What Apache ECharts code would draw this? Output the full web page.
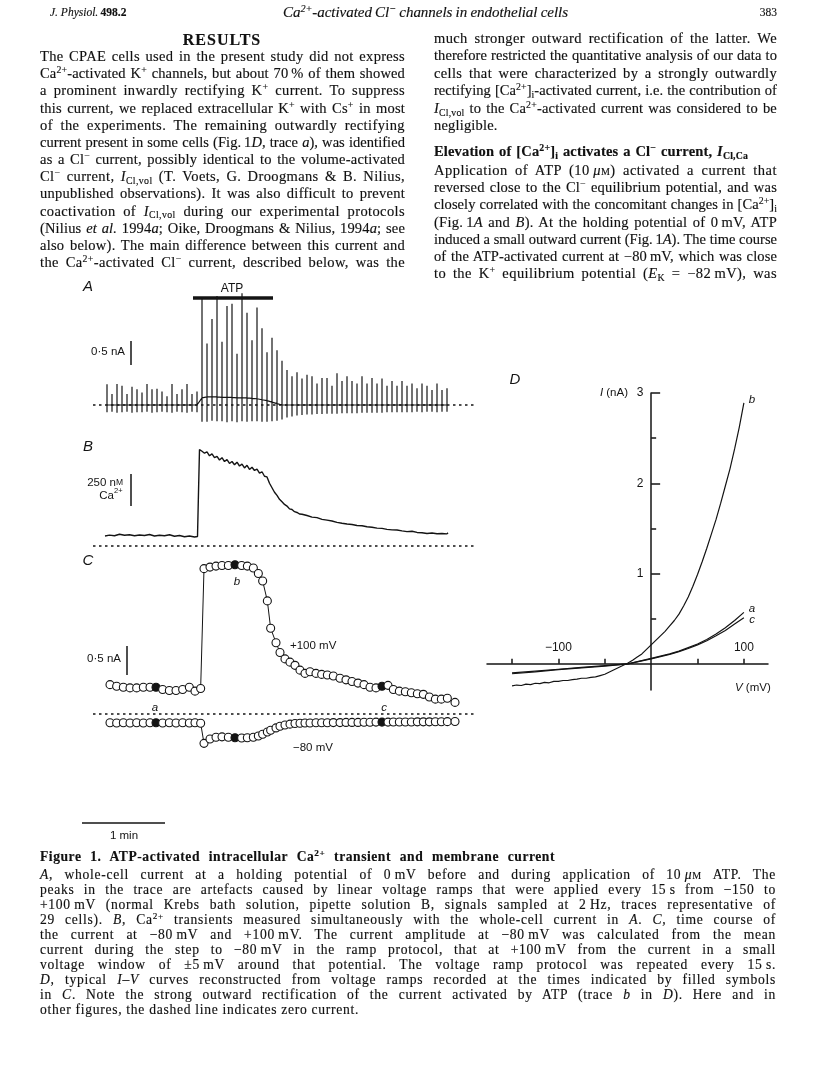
<!DOCTYPE html>
<html><head><meta charset="utf-8">
<script src="https://cdn.jsdelivr.net/npm/echarts@6/dist/echarts.min.js"></script>
<style>
html,body{margin:0;padding:0;background:#fff;}
#page{position:relative;width:816px;height:1088px;overflow:hidden;background:#fff;}
#chart{position:absolute;left:0;top:0;width:816px;height:1088px;z-index:1;}
.t{position:absolute;white-space:nowrap;font-family:"Liberation Serif","Times New Roman",serif;color:#111;z-index:2;-webkit-text-stroke:0.15px #111;}
.body{font-size:14.5px;line-height:17px;height:17px;}
.cap{font-size:13.6px;line-height:15px;height:15px;}
.hdr{font-size:11.5px;line-height:15px;height:15px;}
.ttl{font-size:15px;line-height:17px;height:17px;}
.res{font-size:16px;line-height:20px;height:20px;font-weight:bold;letter-spacing:1px;}
sup,sub{font-size:0.68em;line-height:0;position:relative;vertical-align:baseline;}
sup{top:-0.5em;} sub{top:0.3em;}
.sc{font-variant:small-caps;}
</style></head>
<body>
<div id="page"><div id="chart"></div></div>
<script>
// ---------------- DATA ----------------
// Panel A: one voltage-ramp artefact per ramp (nA); x = ramp number
const spikeUp = [0.43,0.23,0.44,0.40,0.23,0.38,0.33,0.26,0.44,0.33,0.34,0.28,0.18,0.44,0.23,0.33,0.44,0.23,0.28,
  2.10,1.11,1.62,2.10,1.16,1.90,1.95,0.92,2.18,1.77,1.21,1.90,1.49,1.01,1.34,1.11,
  0.92,0.73,0.60,0.68,0.55,0.63,0.60,0.45,0.56,0.56,0.40,0.66,0.50,0.60,0.50,0.45,0.60,0.45,0.56,0.45,0.55,0.40,0.50,0.40,0.50,0.40,0.45,0.35,0.45,0.40,0.31,0.45,0.31,0.35];
const spikeDown = [0.15,0.14,0.16,0.15,0.14,0.16,0.15,0.15,0.14,0.16,0.15,0.14,0.15,0.16,0.14,0.15,0.16,0.14,0.15,
  0.50,0.52,0.50,0.51,0.50,0.52,0.50,0.51,0.49,0.50,0.48,0.47,0.46,0.44,0.40,0.36,
  0.30,0.26,0.24,0.22,0.21,0.20,0.20,0.19,0.19,0.18,0.18,0.18,0.17,0.17,0.17,0.17,0.16,0.16,0.16,0.16,0.16,0.15,0.15,0.15,0.15,0.15,0.15,0.14,0.15,0.14,0.14,0.15,0.14,0.14];
const holdBase = [0,0,0,0,0,0,0,0,0,0,0,0,0,0,0,0,0,0,0,
  0.15,0.17,0.17,0.17,0.16,0.16,0.16,0.15,0.15,0.15,0.14,0.13,0.11,0.09,0.06,0.03,
  0,0,0,0,0,0,0,0,0,0,0,0,0,0,0,0,0,0,0,0,0,0,0,0,0,0,0,0,0,0,0,0,0,0];
const atpWindow = [17.2, 33.2];
// Panel B: [Ca2+]i (nM) vs ramp number
const bT = [-0.4,0.5,1.5,2.5,3.5,4.5,5.5,6.5,7.5,8.5,9.5,10.5,11.5,12.5,13.5,14.5,15.5,16.5,17.5,18.1,18.3,18.5,
  19,19.5,20,20.5,21,21.5,22,22.5,23,23.5,24,24.5,25,25.5,26,26.5,27,27.5,28,28.5,29,29.5,30,30.5,31,31.5,32,32.5,33,33.5,34,34.5,35,35.5,36,36.5,37,37.5,38,38.5,
  39,40,41,42,43,44,45,46,47,48,49,50,51,52,53,54,55,56,57,58,59,60,61,62,63,64,65,66,67,68,68.2];
const bCa = [78,85,80,92,84,88,80,86,82,90,78,84,80,88,76,82,72,78,70,74,420,754,
  740,725,735,705,720,690,700,672,690,660,675,645,660,635,655,625,640,610,630,598,615,590,600,570,580,545,540,490,455,420,395,365,345,325,312,290,285,268,262,250,
  248,238,226,222,208,202,195,185,178,172,168,160,158,150,146,140,138,130,126,125,118,112,115,106,104,98,102,96,98,95,104];
// Panel C: current at +100 and -80 mV (nA) vs ramp number
const cT = [0.6,1.93,3.27,4.6,5.93,7.27,8.6,9.8,11.13,12.47,13.8,15.13,16.47,17.6,18.73,
  19.4,20.6,21.8,23,24.27,25.6,26.93,28.07,29.27,30.27,31.13,32.07,32.73,33.8,34.6,35.6,36.6,37.6,38.6,39.6,40.6,41.8,42.93,44.07,45.27,46.6,47.8,49,50.2,51.4,52.6,53.8,55,56.2,57.27,58.47,59.67,60.87,62.07,63.27,64.47,65.67,66.87,68.07,69.6];
const cPlus100 = [0.506,0.478,0.461,0.45,0.45,0.461,0.461,0.461,0.422,0.406,0.406,0.422,0.461,0.394,0.439,
  2.506,2.533,2.55,2.561,2.561,2.572,2.561,2.55,2.517,2.422,2.294,1.95,1.478,1.228,1.061,0.95,0.894,0.839,0.756,0.70,0.728,0.70,0.683,0.672,0.656,0.617,0.589,0.561,0.533,0.506,0.461,0.45,0.478,0.494,0.422,0.394,0.383,0.367,0.35,0.339,0.294,0.256,0.256,0.272,0.20];
const cMinus80 = [-0.15,-0.155,-0.15,-0.155,-0.15,-0.155,-0.15,-0.15,-0.155,-0.15,-0.155,-0.15,-0.155,-0.15,-0.16,
  -0.506,-0.43,-0.40,-0.394,-0.40,-0.41,-0.415,-0.41,-0.40,-0.38,-0.35,-0.31,-0.28,-0.24,-0.21,-0.19,-0.175,-0.165,-0.16,-0.155,-0.155,-0.15,-0.15,-0.15,-0.148,-0.148,-0.145,-0.145,-0.145,-0.143,-0.143,-0.14,-0.14,-0.14,-0.138,-0.138,-0.137,-0.137,-0.135,-0.135,-0.135,-0.133,-0.133,-0.132,-0.13];
const filledSamples = [7, 20, 47]; // a, b, c
// Panel D: I-V curves (mV, nA)
const vB = [-150,-145,-140,-135,-130,-125,-120,-115,-110,-105,-100,-95,-90,-85,-80,-75,-70,-65,-60,-55,-50,-45,-40,-35,-30,-25,-20,-15,-10,-5,0,5,10,15,20,25,30,35,40,45,50,55,60,65,70,75,80,85,90,95,100];
const iB = [-0.245,-0.235,-0.24,-0.225,-0.23,-0.215,-0.22,-0.205,-0.21,-0.195,-0.195,-0.185,-0.185,-0.175,-0.17,-0.16,-0.16,-0.15,-0.145,-0.13,-0.115,-0.09,-0.065,-0.04,-0.015,0.01,0.04,0.075,0.11,0.16,0.21,0.26,0.31,0.36,0.42,0.48,0.55,0.64,0.74,0.86,0.99,1.13,1.28,1.44,1.6,1.78,1.97,2.16,2.38,2.62,2.89];
const vAC = [-150,-125,-100,-75,-50,-25,0,10,20,30,40,50,60,70,80,90,100];
const iA = [-0.10,-0.08,-0.06,-0.04,-0.02,0.0,0.06,0.085,0.11,0.14,0.18,0.22,0.27,0.33,0.40,0.48,0.57];
const iC = [-0.11,-0.09,-0.065,-0.045,-0.025,0.0,0.055,0.08,0.105,0.135,0.17,0.21,0.255,0.31,0.37,0.44,0.51];
const dTicksV = [-150,-100,-50,50,100];
const dLabelsV = [-100,100];
const dTicksI = [1,2,3];
const dMinorI = [0.5,1.5,2.5];

// ---------------- TEXT ----------------
const MINUS = '\u2212';
const leftLines = [
 'The CPAE cells used in the present study did not express',
 'Ca<sup>2+</sup>-activated K<sup>+</sup> channels, but about 70&thinsp;% of them showed',
 'a prominent inwardly rectifying K<sup>+</sup> current. To suppress',
 'this current, we replaced extracellular K<sup>+</sup> with Cs<sup>+</sup> in most',
 'of the experiments. The remaining outwardly rectifying',
 'current present in some cells (Fig.&thinsp;1<i>D</i>, trace <i>a</i>), was identified',
 'as a Cl<sup>&minus;</sup> current, possibly identical to the volume-activated',
 'Cl<sup>&minus;</sup> current, <i>I</i><sub>Cl,vol</sub> (T. Voets, G. Droogmans &amp; B. Nilius,',
 'unpublished observations). It was also difficult to prevent',
 'coactivation of <i>I</i><sub>Cl,vol</sub> during our experimental protocols',
 '(Nilius <i>et al.</i> 1994<i>a</i>; Oike, Droogmans &amp; Nilius, 1994<i>a</i>; see',
 'also below). The main difference between this current and',
 'the Ca<sup>2+</sup>-activated Cl<sup>&minus;</sup> current, described below, was the'
];
const rightLines1 = [
 'much stronger outward rectification of the latter. We',
 'therefore restricted the quantitative analysis of our data to',
 'cells that were characterized by a strongly outwardly',
 'rectifying [Ca<sup>2+</sup>]<sub>i</sub>-activated current, i.e. the contribution of',
 '<i>I</i><sub>Cl,vol</sub> to the Ca<sup>2+</sup>-activated current was considered to be',
 'negligible.'
];
const rightHeading = '<b>Elevation of [Ca<sup>2+</sup>]<sub>i</sub> activates a Cl<sup>&minus;</sup> current, <i>I</i><sub>Cl,Ca</sub></b>';
const rightLines2 = [
 'Application of ATP (10&thinsp;<i>&mu;</i><span class="sc">m</span>) activated a current that',
 'reversed close to the Cl<sup>&minus;</sup> equilibrium potential, and was',
 'closely correlated with the concomitant changes in [Ca<sup>2+</sup>]<sub>i</sub>',
 '(Fig.&thinsp;1<i>A</i> and <i>B</i>). At the holding potential of 0&thinsp;mV, ATP',
 'induced a small outward current (Fig.&thinsp;1<i>A</i>). The time course',
 'of the ATP-activated current at &minus;80&thinsp;mV, which was close',
 'to the K<sup>+</sup> equilibrium potential (<i>E</i><sub>K</sub> = &minus;82&thinsp;mV), was'
];
const capHeading = '<b>Figure 1. ATP-activated intracellular Ca<sup>2+</sup> transient and membrane current</b>';
const capLines = [
 '<i>A</i>, whole-cell current at a holding potential of 0&thinsp;mV before and during application of 10&thinsp;<i>&mu;</i><span class="sc">m</span> ATP. The',
 'peaks in the trace are artefacts caused by linear voltage ramps that were applied every 15&thinsp;s from &minus;150 to',
 '+100&thinsp;mV (normal Krebs bath solution, pipette solution B, signals sampled at 2&thinsp;Hz, traces representative of',
 '29 cells). <i>B</i>, Ca<sup>2+</sup> transients measured simultaneously with the whole-cell current in <i>A</i>. <i>C</i>, time course of',
 'the current at &minus;80&thinsp;mV and +100&thinsp;mV. The current amplitude at &minus;80&thinsp;mV was calculated from the mean',
 'current during the step to &minus;80&thinsp;mV in the ramp protocol, that at +100&thinsp;mV from the current in a small',
 'voltage window of &plusmn;5&thinsp;mV around that potential. The voltage ramp protocol was repeated every 15&thinsp;s.',
 '<i>D</i>, typical <i>I&ndash;V</i> curves reconstructed from voltage ramps recorded at the times indicated by filled symbols',
 'in <i>C</i>. Note the strong outward rectification of the current activated by ATP (trace <i>b</i> in <i>D</i>). Here and in',
 'other figures, the dashed line indicates zero current.'
];

// ---------------- TEXT LAYOUT ----------------
const page = document.getElementById('page');
let lastLs = 0;
function place(html, x, yc, o) {
  const d = document.createElement('div');
  d.className = 't ' + o.cls;
  d.style.top = (yc - o.off) + 'px';
  const s = document.createElement('span');
  s.innerHTML = html;
  d.appendChild(s);
  page.appendChild(d);
  let nat = s.getBoundingClientRect().width;
  const text = s.textContent;
  const nSp = (text.match(/ /g) || []).length;
  if (o.w && o.just) {
    const ls = Math.max(-0.35, Math.min(0.7, (o.w - nat) * 0.5 / text.length));
    s.style.letterSpacing = ls + 'px';
    lastLs = ls;
    nat = s.getBoundingClientRect().width;
    if (nSp > 0) s.style.wordSpacing = ((o.w - nat) / nSp) + 'px';
  } else if (o.keepLs) {
    s.style.letterSpacing = lastLs + 'px';
  }
  nat = s.getBoundingClientRect().width;
  let left = x;
  if (o.align === 'center') left = x - nat / 2;
  if (o.align === 'right') left = x - nat;
  d.style.left = left + 'px';
}
place('<i>J. Physiol.</i>&thinsp;<b>498.2</b>', 50, 14, {cls:'hdr', off:9});
place('<i>Ca<sup>2+</sup>-activated Cl<sup>&minus;</sup> channels in endothelial cells</i>', 283, 14, {cls:'ttl', off:10, w:285, just:true});
place('383', 777, 14, {cls:'hdr', off:9, align:'right'});
place('RESULTS', 222, 40, {cls:'res', off:10, align:'center'});
leftLines.forEach((h, i) => place(h, 40, 58 + i * 17.17, {cls:'body', off:10, w:365, just:true}));
rightLines1.forEach((h, i) => place(h, 434, 40 + i * 17.4, {cls:'body', off:10, w:343, just: i < rightLines1.length - 1, keepLs:true}));
place(rightHeading, 434, 153, {cls:'body', off:10, w:314, just:true});
rightLines2.forEach((h, i) => place(h, 434, 172 + i * 17.17, {cls:'body', off:10, w:343, just:true}));
place(capHeading, 40, 858, {cls:'cap', off:9, w:515, just:true});
capLines.forEach((h, i) => place(h, 40, 876 + i * 15, {cls:'cap', off:9, w:736, just: i < capLines.length - 1, keepLs:true}));

// ---------------- CHART ----------------
const INK = '#141414';
const SANS = '"Liberation Sans", Arial, sans-serif';
const chart = echarts.init(document.getElementById('chart'), null, {renderer: 'canvas'});

function traceA() {
  const d = [];
  for (let i = 0; i < spikeUp.length; i++) {
    const b = holdBase[i];
    d.push([i, b], [i, b + spikeUp[i]], [i, b - spikeDown[i]], [i, b]);
  }
  return d;
}
const zip = (xs, ys) => xs.map((x, i) => [x, ys[i]]);
const markers = ys => ys.map((y, i) => ({value: [cT[i], y],
  itemStyle: {color: filledSamples.includes(i) ? INK : '#fff'}}));

const X0 = -6, X1 = 74;
const hiddenX = (g) => ({gridIndex: g, type: 'value', min: X0, max: X1, show: false});
const line = (xi, data, w, extra) => Object.assign({type: 'line', xAxisIndex: xi, yAxisIndex: xi, data: data,
  showSymbol: false, symbol: 'none', clip: false, silent: true, animation: false,
  lineStyle: {color: INK, width: w}}, extra || {});
const dashed = (xi) => line(xi, [[-2.8, 0], [X1, 0]], 1.3, {lineStyle: {color: INK, width: 1.3, type: [2.5, 3.5]}});

function txt(text, x, y, size, opts) {
  opts = opts || {};
  return {type: 'text', x: x, y: y, silent: true, z: 10, style: Object.assign({
    text: text, fill: INK, fontFamily: SANS, fontSize: size,
    fontStyle: opts.italic ? 'italic' : 'normal', fontWeight: opts.bold ? 'bold' : 'normal',
    align: opts.align || 'left', verticalAlign: 'middle'}, opts.style || {})};
}

const option = {
  animation: false,
  grid: [
    {left: 77, width: 400, top: 285, height: 153.6},
    {left: 77, width: 400, top: 430.8, height: 128},
    {left: 77, width: 400, top: 551.6, height: 278.4},
    {left: 487, width: 281, top: 393, height: 297}
  ],
  xAxis: [hiddenX(0), hiddenX(1), hiddenX(2),
    {gridIndex: 3, type: 'value', min: -177, max: 126,
     axisLine: {show: true, onZero: true, lineStyle: {color: INK, width: 1.5}},
     axisTick: {show: true, inside: true, length: 5, customValues: dTicksV, lineStyle: {color: INK, width: 1.5}},
     axisLabel: {show: false},
     splitLine: {show: false}}],
  yAxis: [
    {gridIndex: 0, type: 'value', min: -0.7, max: 2.5, show: false},
    {gridIndex: 1, type: 'value', min: -100, max: 900, show: false},
    {gridIndex: 2, type: 'value', min: -2.0, max: 2.8, show: false},
    {gridIndex: 3, type: 'value', min: -0.29, max: 3, position: 'left',
     axisLine: {show: true, onZero: true, lineStyle: {color: INK, width: 1.5}},
     axisTick: {show: true, inside: true, length: 9, customValues: dTicksI, lineStyle: {color: INK, width: 1.5}},
     axisLabel: {show: false},
     splitLine: {show: false}},
    {gridIndex: 3, type: 'value', min: -0.29, max: 3, position: 'left',
     axisLine: {show: false, onZero: true, onZeroAxisIndex: 3},
     axisTick: {show: true, inside: true, length: 5, customValues: dMinorI, lineStyle: {color: INK, width: 1.5}},
     axisLabel: {show: false}, splitLine: {show: false}}
  ],
  series: [
    dashed(0),
    line(0, traceA(), 1.2),
    line(0, atpWindow.map(t => [t, 2.23]), 3.5),
    line(0, [[4.8, 0.833], [4.8, 1.333]], 1.5),
    dashed(1),
    line(1, zip(bT, bCa), 1.4),
    line(1, [[4.8, 312.5], [4.8, 562.5]], 1.5),
    dashed(2),
    line(2, markers(cPlus100), 1, {showSymbol: true, showAllSymbol: true, symbol: 'circle', symbolSize: 8,
      itemStyle: {color: '#fff', borderColor: INK, borderWidth: 1.1}}),
    line(2, markers(cMinus80), 1, {showSymbol: true, showAllSymbol: true, symbol: 'circle', symbolSize: 8,
      itemStyle: {color: '#fff', borderColor: INK, borderWidth: 1.1}}),
    line(2, [[4.0, 0.672], [4.0, 1.172]], 1.5),
    line(2, [[-5, -1.879], [11.6, -1.879]], 1.5),
    Object.assign(line(3, zip(vAC, iA), 1.2), {xAxisIndex: 3, yAxisIndex: 3}),
    Object.assign(line(3, zip(vAC, iC), 1.2), {xAxisIndex: 3, yAxisIndex: 3}),
    Object.assign(line(3, zip(vB, iB), 1.2), {xAxisIndex: 3, yAxisIndex: 3})
  ]
};
chart.setOption(option);

// tick labels of panel D placed through the axis scales
const px = (v) => chart.convertToPixel({gridIndex: 3}, v);
const dLabels = [];
dTicksI.forEach(v => { const p = px([0, v]); dLabels.push(txt(String(v), p[0] - 11, p[1], 12, {align: 'center'})); });
dLabelsV.forEach(v => { const p = px([v, 0]); dLabels.push(txt(v < 0 ? MINUS + Math.abs(v) : String(v), p[0], p[1] - 16, 12, {align: 'center'})); });

chart.setOption({graphic: dLabels.concat([
    txt('A', 88, 287, 15, {italic: true, align: 'center'}),
    txt('B', 88, 447, 15, {italic: true, align: 'center'}),
    txt('C', 88, 561, 15, {italic: true, align: 'center'}),
    txt('D', 515, 380, 15, {italic: true, align: 'center'}),
    txt('ATP', 232, 289, 12, {align: 'center'}),
    txt('0\u00b75 nA', 125, 352, 11.5, {align: 'right'}),
    txt('0\u00b75 nA', 121, 659, 11.5, {align: 'right'}),
    txt('{n|250 n}{m|M}', 123, 483, 11.5, {align: 'right', style: {rich: {n: {fontSize: 11.5, fontFamily: SANS, fill: INK}, m: {fontSize: 8.5, fontFamily: SANS, fill: INK}}}}),
    txt('Ca', 114, 496, 11.5, {align: 'right'}),
    txt('2+', 114, 491, 7.5, {align: 'left'}),
    txt('b', 237, 582, 11.5, {italic: true, align: 'center'}),
    txt('a', 155, 708, 11.5, {italic: true, align: 'center'}),
    txt('c', 384, 708, 11.5, {italic: true, align: 'center'}),
    txt('+100 mV', 290, 646, 11.5),
    txt(MINUS + '80 mV', 293, 748, 11.5),
    txt('1 min', 124, 836, 11.5, {align: 'center'}),
    txt('{i|I} (nA)', 628, 393, 11.5, {align: 'right', style: {rich: {i: {fontStyle: 'italic', fontSize: 11.5, fontFamily: SANS, fill: INK}}}}),
    txt('{i|V} (mV)', 735, 688, 11.5, {style: {rich: {i: {fontStyle: 'italic', fontSize: 11.5, fontFamily: SANS, fill: INK}}}}),
    txt('b', 752, 400, 11.5, {italic: true, align: 'center'}),
    txt('a', 752, 609, 11.5, {italic: true, align: 'center'}),
    txt('c', 752, 620, 11.5, {italic: true, align: 'center'})
  ])});
</script>
</body></html>
